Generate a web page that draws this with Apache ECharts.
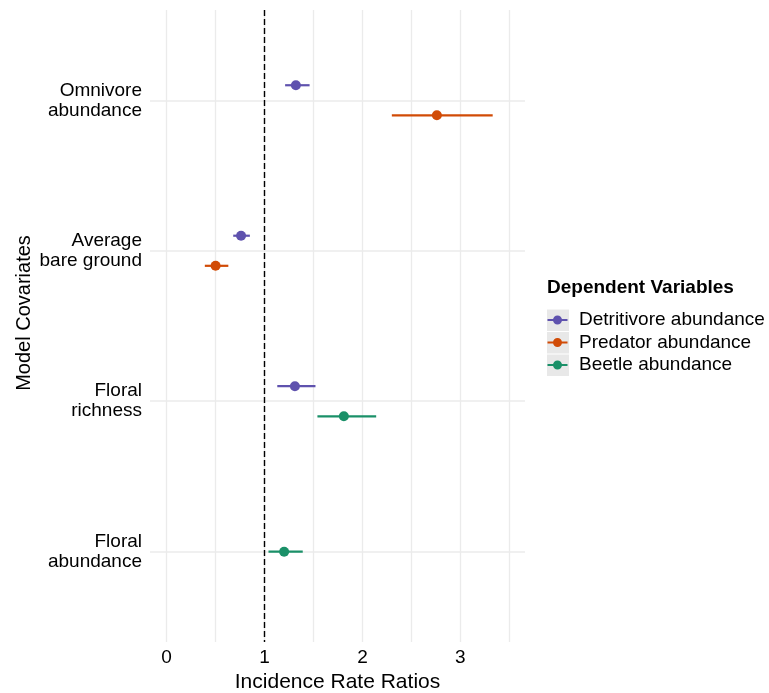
<!DOCTYPE html>
<html>
<head>
<meta charset="utf-8">
<script src="https://cdn.jsdelivr.net/npm/echarts@6/dist/echarts.min.js"></script>
<style>html,body{margin:0;padding:0;background:#fff;}#c{width:769px;height:693px;}</style>
</head>
<body>
<div id="c"></div>
<script>
// ---- data ----
const categories = ['Omnivore\nabundance', 'Average\nbare ground', 'Floral\nrichness', 'Floral\nabundance'];
const seriesNames = ['Detritivore abundance', 'Predator abundance', 'Beetle abundance'];
const detritivoreEst = [1.32, 0.76, 1.31, null];
const detritivoreLo  = [1.21, 0.68, 1.13, null];
const detritivoreHi  = [1.46, 0.85, 1.52, null];
const predatorEst = [2.76, 0.50, null, null];
const predatorLo  = [2.30, 0.39, null, null];
const predatorHi  = [3.33, 0.63, null, null];
const beetleEst = [null, null, 1.81, 1.20];
const beetleLo  = [null, null, 1.54, 1.04];
const beetleHi  = [null, null, 2.14, 1.39];
const xTickLabels = [0, 1, 2, 3];
const xGridValues = [0, 0.5, 1, 1.5, 2, 2.5, 3, 3.5];
const refLine = 1;

const colors = ['#5F52AE', '#D14B06', '#1A9068'];
const groups = [
  [detritivoreEst, detritivoreLo, detritivoreHi],
  [predatorEst, predatorLo, predatorHi],
  [beetleEst, beetleLo, beetleHi]
];

// position_dodge (width 0.4)
const dodgeWidth = 0.4;
function dodgeOffset(ci, gi) {
  const present = [];
  groups.forEach((g, k) => { if (g[0][ci] != null) present.push(k); });
  const n = present.length, i = present.indexOf(gi);
  if (n <= 1) return 0;
  return -dodgeWidth / 2 + dodgeWidth / (2 * n) + i * dodgeWidth / n;
}

const FONT = 'Liberation Sans, Arial, sans-serif';

function renderItem(params, api) {
  const est = api.value(0), y = api.value(1), lo = api.value(2), hi = api.value(3);
  const a = api.coord([lo, y]), b = api.coord([hi, y]), p = api.coord([est, y]);
  const color = api.visual('color');
  return {
    type: 'group',
    children: [
      { type: 'line', shape: { x1: a[0], y1: a[1], x2: b[0], y2: b[1] }, style: { stroke: color, lineWidth: 2.2 } },
      { type: 'circle', shape: { cx: p[0], cy: p[1], r: 5 }, style: { fill: color } }
    ]
  };
}

const series = groups.map((g, gi) => {
  const data = [];
  categories.forEach((c, ci) => {
    if (g[0][ci] != null) data.push([g[0][ci], ci + 1 + dodgeOffset(ci, gi), g[1][ci], g[2][ci]]);
  });
  const s = {
    name: seriesNames[gi],
    type: 'custom',
    renderItem: renderItem,
    itemStyle: { color: colors[gi] },
    encode: { x: [0, 2, 3], y: 1 },
    data: data,
    z: 3
  };
  if (gi === 0) {
    s.markLine = {
      silent: true,
      symbol: 'none',
      label: { show: false },
      lineStyle: { color: '#000', type: [6, 3], width: 1.4 },
      data: [{ xAxis: refLine }],
      z: 2
    };
  }
  return s;
});

const iconPath = 'path://M0,4 L20,4 L20,6 L0,6 Z M10,0.5 A4.5,4.5 0 1 1 9.99,0.5 Z';

const chart = echarts.init(document.getElementById('c'));
chart.setOption({
  backgroundColor: '#fff',
  animation: false,
  textStyle: { fontFamily: FONT },
  grid: { left: 150, right: 244, top: 10, bottom: 51, containLabel: false, outerBoundsMode: 'none' },
  title: {
    text: 'Dependent Variables',
    left: 547, top: 278, padding: 0,
    textStyle: { fontFamily: FONT, fontSize: 19, fontWeight: 'bold', color: '#000' }
  },
  legend: {
    orient: 'vertical',
    left: 547.5, top: 309, padding: 0,
    itemWidth: 20, itemHeight: 10, itemGap: 0.5,
    data: seriesNames.map(n => ({ name: n, icon: iconPath })),
    textStyle: { fontFamily: FONT, fontSize: 19, color: '#000', lineHeight: 22, padding: [0, 0, 0, 6.5] },
    selectedMode: false
  },
  graphic: [0, 1, 2].map(i => ({
    type: 'rect', left: 547, top: 309.5 + i * 22.5, z: -1,
    shape: { width: 22, height: 21.5 },
    style: { fill: '#e8e8e8' }
  })),
  xAxis: {
    type: 'value', min: -0.17, max: 3.66,
    name: 'Incidence Rate Ratios', nameLocation: 'middle', nameGap: 25,
    nameTextStyle: { fontFamily: FONT, fontSize: 21, color: '#000' },
    axisLine: { show: false },
    axisTick: { show: false, customValues: xGridValues },
    axisLabel: { customValues: xTickLabels, fontFamily: FONT, fontSize: 19, color: '#000', margin: 6 },
    splitLine: { show: true, lineStyle: { color: '#ebebeb', width: 1.3 } }
  },
  yAxis: {
    type: 'value', min: 0.4, max: 4.6, inverse: true,
    name: 'Model Covariates', nameLocation: 'middle', nameGap: 116,
    nameTextStyle: { fontFamily: FONT, fontSize: 20, color: '#000', padding: [0, 0, 0, 26] },
    axisLine: { show: false },
    axisTick: { show: false, customValues: [1, 2, 3, 4] },
    axisLabel: {
      customValues: [1, 2, 3, 4],
      formatter: v => categories[Math.round(v) - 1],
      fontFamily: FONT, fontSize: 19, color: '#000', lineHeight: 20, margin: 8, align: 'right'
    },
    splitLine: { show: true, lineStyle: { color: '#ebebeb', width: 1.5 } }
  },
  series: series
});
</script>
</body>
</html>
